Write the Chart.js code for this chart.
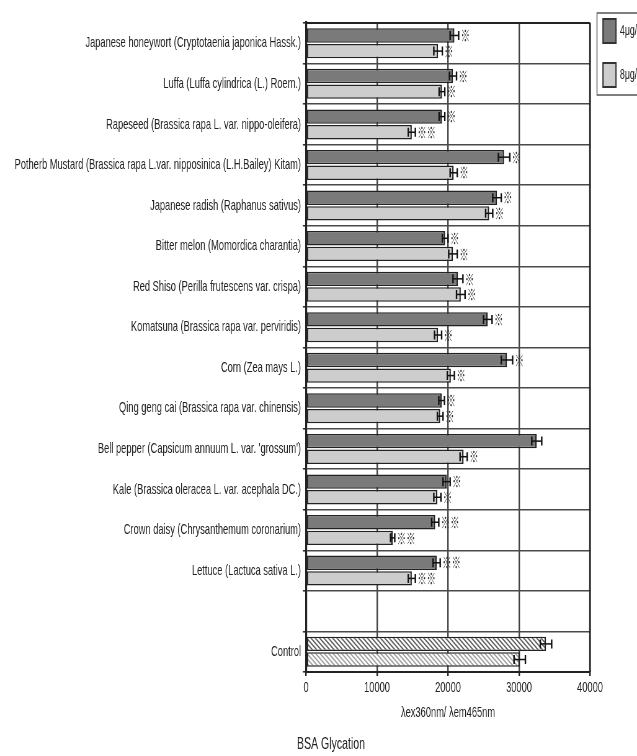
<!DOCTYPE html>
<html><head><meta charset="utf-8">
<script src="https://cdn.jsdelivr.net/npm/chart.js@4"></script>
<style>
html,body{margin:0;padding:0;background:#fff;overflow:hidden}
#wrap{width:637px;height:756px;overflow:hidden;position:relative;background:#fff}
#c{position:absolute;left:0;top:0;transform-origin:0 0}
</style></head><body>
<div id="wrap"><canvas id="c"></canvas></div>
<script>
// ---- data ----
const categories = [
  'Japanese honeywort (Cryptotaenia japonica Hassk.)',
  'Luffa (Luffa cylindrica (L.) Roem.)',
  'Rapeseed (Brassica rapa L. var. nippo-oleifera)',
  'Potherb Mustard (Brassica rapa L.var. nipposinica (L.H.Bailey) Kitam)',
  'Japanese radish (Raphanus sativus)',
  'Bitter melon (Momordica charantia)',
  'Red Shiso (Perilla frutescens var. crispa)',
  'Komatsuna (Brassica rapa var. perviridis)',
  'Corn (Zea mays L.)',
  'Qing geng cai (Brassica rapa var. chinensis)',
  "Bell pepper (Capsicum annuum L. var. 'grossum')",
  'Kale (Brassica oleracea L. var. acephala DC.)',
  'Crown daisy (Chrysanthemum coronarium)',
  'Lettuce (Lactuca sativa L.)',
  '',
  'Control'
];
const seriesNames = ['4μg/mL', '8μg/mL'];
const values4 = [20900, 20700, 19150, 27900, 26900, 19600, 21400, 25600, 28300, 19100, 32500, 19800, 18200, 18400, null, 33800];
const errors4 = [600, 500, 400, 800, 600, 400, 700, 600, 800, 400, 700, 500, 500, 500, null, 800];
const marks4  = ['※','※','※','※','※','※','※','※','※','※','','※','※※','※※','',''];
const values8 = [18600, 19150, 14900, 20800, 25800, 20700, 21800, 18600, 20400, 18900, 22200, 18500, 12200, 14900, null, 30100];
const errors8 = [600, 400, 500, 500, 500, 600, 600, 500, 500, 400, 500, 500, 300, 500, null, 800];
const marks8  = ['※','※','※※','※','※','※','※','※','※','※','※','※','※※','※※','',''];
const xTicks = [0, 10000, 20000, 30000, 40000];
const xTitle = 'λex360nm/ λem465nm';
const chartTitle = 'BSA Glycation';
const controlLabel = 'Control';

// ---- canvas (horizontally condensed like the original figure) ----
const SCREEN_W = 637, H = 756;
const W = Math.round(SCREEN_W / 0.62);
const sx = SCREEN_W / W;
const cv = document.getElementById('c');
cv.width = W; cv.height = H;
cv.style.width = W + 'px'; cv.style.height = H + 'px';
cv.style.transform = 'scaleX(' + sx + ')';

const FONT = "'Liberation Sans', Arial, sans-serif";
const controlIndex = categories.indexOf(controlLabel);

function makeHatch(lineColor) {
  const t = document.createElement('canvas');
  const w = Math.round(4.6 / sx), h = 5;
  t.width = w; t.height = h;
  const c = t.getContext('2d');
  c.fillStyle = '#ffffff'; c.fillRect(0, 0, w, h);
  c.strokeStyle = lineColor; c.lineWidth = 1.7;
  [[0,0],[-w,0],[w,0]].forEach(([ox, oy]) => {
    c.beginPath(); c.moveTo(ox - w*0.2, oy - h*0.2); c.lineTo(ox + w*1.2, oy + h*1.2); c.stroke();
  });
  return c.createPattern(t, 'repeat');
}
const fills = ['#7a7a7a', '#cdcdcd'];
const hatches = [makeHatch('#5e5e5e'), makeHatch('#a0a0a0')];
const errs = [errors4, errors8];
const marks = [marks4, marks8];

const overlay = {
  id: 'overlay',
  afterDatasetsDraw(chart) {
    const c = chart.ctx, xs = chart.scales.x;
    c.save();
    chart.data.datasets.forEach((ds, di) => {
      const meta = chart.getDatasetMeta(di);
      meta.data.forEach((el, i) => {
        const v = ds.data[i];
        if (v == null) return;
        const e = errs[di][i];
        const x1 = xs.getPixelForValue(v - e), x2 = xs.getPixelForValue(v + e);
        const y = el.y, hh = 4.5;
        c.strokeStyle = '#111';
        c.lineWidth = 1.5;
        c.beginPath(); c.moveTo(x1, y); c.lineTo(x2, y); c.stroke();
        c.lineWidth = 2.4;
        c.beginPath(); c.moveTo(x1, y - hh); c.lineTo(x1, y + hh);
        c.moveTo(x2, y - hh); c.lineTo(x2, y + hh); c.stroke();
        const m = marks[di][i];
        if (m) {
          c.fillStyle = '#333';
          c.font = "bold 15px 'Noto Sans CJK JP', 'DejaVu Sans', sans-serif";
          c.textAlign = 'left'; c.textBaseline = 'middle';
          c.fillText(m, x2 + 2 / sx, y);
        }
      });
    });
    c.restore();
  },
  afterDraw(chart) {
    const c = chart.ctx, a = chart.chartArea;
    c.save();
    // frame top + right
    c.strokeStyle = '#222';
    c.lineWidth = 1.8;
    c.beginPath(); c.moveTo(a.left, a.top); c.lineTo(a.right, a.top); c.stroke();
    c.lineWidth = 2.8;
    c.beginPath(); c.moveTo(a.right, a.top); c.lineTo(a.right, a.bottom); c.stroke();
    // legend
    const bx = a.right + 7 / sx, by = 13;
    c.strokeStyle = '#555'; c.lineWidth = 1.5;
    c.strokeRect(bx, by, 80 / sx, 82);
    chart.data.datasets.forEach((ds, di) => {
      const sy = 19 + di * 44;
      c.fillStyle = fills[di];
      c.fillRect(bx + 6 / sx, sy, 13 / sx, 24);
      c.strokeStyle = '#333'; c.lineWidth = 2;
      c.strokeRect(bx + 6 / sx, sy, 13 / sx, 24);
      c.fillStyle = '#222';
      c.font = '14px ' + FONT;
      c.textAlign = 'left'; c.textBaseline = 'middle';
      c.fillText(ds.label, bx + 23 / sx, sy + 12);
    });
    // bottom caption
    c.fillStyle = '#222';
    c.font = '17px ' + FONT;
    c.textAlign = 'left'; c.textBaseline = 'middle';
    c.fillText(chartTitle, a.left - 9 / sx, 744);
    c.restore();
  }
};

new Chart(cv, {
  type: 'bar',
  data: {
    labels: categories,
    datasets: [values4, values8].map((vals, di) => ({
      label: seriesNames[di],
      data: vals,
      backgroundColor: (ctx) => ctx.dataIndex === controlIndex ? hatches[di] : fills[di],
      borderColor: '#222',
      borderWidth: { top: 1.5, bottom: 1.5, left: 2.4, right: 2.4 },
      borderSkipped: false,
      categoryPercentage: 0.77,
      barPercentage: 0.92
    }))
  },
  options: {
    indexAxis: 'y',
    responsive: false,
    animation: false,
    devicePixelRatio: 1,
    layout: { padding: { top: 23, right: W - 590 / sx, bottom: 34, left: 0 } },
    plugins: { legend: { display: false }, tooltip: { enabled: false } },
    scales: {
      x: {
        type: 'linear', min: xTicks[0], max: xTicks[xTicks.length - 1],
        afterBuildTicks: (s) => { s.ticks = xTicks.map(v => ({ value: v })); },
        afterFit: (s) => { s.height = 50; },
        ticks: { callback: (v) => String(v), font: { size: 15, family: FONT }, color: '#222', padding: 3, maxRotation: 0 },
        grid: {
          color: (ctx) => (ctx.tick && (ctx.tick.value === xTicks[0] || ctx.tick.value === xTicks[xTicks.length-1])) ? 'rgba(0,0,0,0)' : '#444',
          lineWidth: 2.4, borderDash: [1.5, 3], tickLength: 4, tickColor: '#222', tickBorderDash: [], tickWidth: 2.4
        },
        border: { display: true, color: '#222', width: 2 },
        title: { display: true, text: xTitle, font: { size: 15, family: FONT }, color: '#222', padding: 0 }
      },
      y: {
        type: 'category', offset: true,
        afterFit: (s) => { s.width = 306 / sx; },
        ticks: { font: { size: 15, family: FONT }, color: '#222', padding: 3, autoSkip: false },
        grid: { offset: true, color: '#4a4a4a', lineWidth: 1.6, borderDash: [2, 3.5], tickLength: 5, tickColor: '#222', tickBorderDash: [], tickWidth: 1.5 },
        border: { display: true, color: '#222', width: 3.2 }
      }
    }
  },
  plugins: [overlay]
});
</script>
</body></html>
